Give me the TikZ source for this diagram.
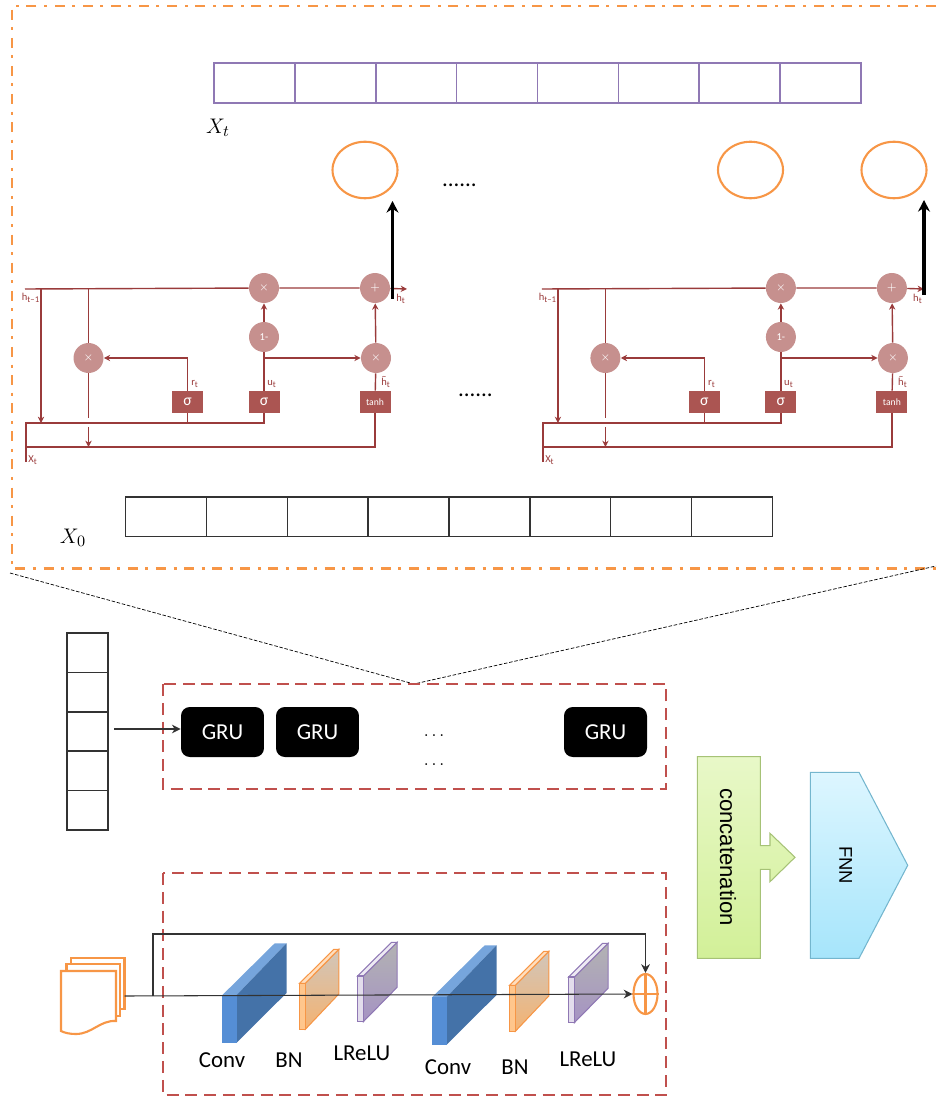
\documentclass[tikz,border=0pt]{standalone}
\usepackage{fontspec}
\setmainfont{Carlito}
\newfontfamily\arialfont{Liberation Sans}
\usepackage{tikz}
\usetikzlibrary{arrows.meta,shapes}
\definecolor{framecol}{HTML}{F79646}
\definecolor{redbox}{HTML}{C0504D}
\definecolor{rowpurple}{HTML}{8F78B4}
\definecolor{gruline}{HTML}{9A3B3B}
\definecolor{grucirc}{HTML}{C6908E}
\definecolor{grubox}{HTML}{AB5552}
\definecolor{guidegray}{HTML}{333333}
\definecolor{convtop}{HTML}{76A5DC}
\definecolor{convside}{HTML}{4472A8}
\definecolor{convfront}{HTML}{558ED5}
\definecolor{concattop}{HTML}{E8F8C8}
\definecolor{concatbot}{HTML}{D2F098}
\definecolor{concatedge}{HTML}{A6C276}
\definecolor{fnntop}{HTML}{DDF6FF}
\definecolor{fnnbot}{HTML}{A6E5FB}
\definecolor{fnnedge}{HTML}{74B6CE}
\tikzset{
framed/.style={framecol,line width=1.5pt,dash pattern=on 5.7pt off 4.3pt on 1.7pt off 4.3pt},
redframe/.style={redbox,line width=1.5pt,dash pattern=on 6.8pt off 3.9pt},
guide/.style={black,line width=.4pt,dash pattern=on 2pt off 1pt},
outcirc/.style={ellipse,draw=framecol,line width=1.2pt,minimum width=1.3cm,minimum height=1.13cm,inner sep=0pt},
grunode/.style={circle,fill=grucirc,text=white,minimum size=.6cm,inner sep=0pt,font=\fontsize{6}{7}\selectfont},
gatebox/.style={rectangle,fill=grubox,text=white,minimum width=.62cm,minimum height=.44cm,inner sep=0pt,font=\fontsize{9}{10}\selectfont},
gatelabel/.style={text=gruline,inner sep=0pt,font=\fontsize{6}{7}\selectfont},
gruwire/.style={gruline,line width=.8pt},
grutip/.style={-{Stealth[length=3.6pt,width=3.6pt]}},
grublock/.style={rectangle,rounded corners=5pt,fill=black,text=white,minimum width=1.66cm,minimum height=1cm,inner sep=0pt,font=\fontsize{13}{15}\selectfont},
flow/.style={guidegray,line width=.6pt},
flowtip/.style={-{Stealth[length=5pt,width=5pt]}},
layertext/.style={inner sep=0pt,font=\fontsize{13}{15}\selectfont},
}
\begin{document}
\begin{tikzpicture}[x=0.02cm,y=-0.02cm,=>stealth]
\useasboundingbox (0,0) rectangle (936,1097);
% zoomed part
\draw[framed] (936,6)--(12,6)--(12,568.5)--(936,568.5);
\foreach \i in {0,...,7}{
\draw[rowpurple,line width=.9pt] (214+80.875*\i,63) rectangle ++(80.875,40);
\draw[black!80,line width=.8pt] (125.5+80.875*\i,497) rectangle ++(80.875,39.5);
}
\draw[rowpurple,line width=1.6pt] (214,103)--(861,103);
\node[inner sep=0pt,font=\fontsize{13}{15}\selectfont] (xtop) at (218,128) {$X_t$};
\node[inner sep=0pt,font=\fontsize{13}{15}\selectfont] (xbot) at (73,538) {$X_0$};
\node[outcirc] (outa) at (365,170) {};
\node[outcirc] (outb) at (750.5,170) {};
\node[outcirc] (outc) at (894,170) {};
\node[layertext] (dotstop) at (459.5,185.3) {......};
\node[layertext] (dotsmid) at (475.5,395) {......};
% the two cells
\foreach \u/\dx in {a/0cm,b/10.34cm}{
\begin{scope}[xshift=\dx,name prefix=\u-]
\coordinate (hin) at (25,289);
\coordinate (hout) at (407,289);
\coordinate (hdown) at (41,289);
\coordinate (hmid) at (88.5,289);
\coordinate (xin) at (26,462);
\coordinate (busa) at (26,423);
\coordinate (busb) at (26,447);
\coordinate (busdrop) at (41,423);
\coordinate (gapa) at (88.5,418);
\coordinate (gapb) at (88.5,427);
\coordinate (gapc) at (88.5,447);
\coordinate (ubranch) at (264,358);
\node[grunode] (mulr) at (88.5,358) {$\times$};
\node[grunode] (mulu) at (264,288) {$\times$};
\node[grunode] (add) at (375,288) {$+$};
\node[grunode] (oneminus) at (264,337) {1-};
\node[grunode] (mulh) at (376,358) {$\times$};
\node[gatebox] (rbox) at (187.5,402) {σ};
\node[gatebox] (ubox) at (264,402) {σ};
\node[gatebox,font=\fontsize{5.5}{6}\selectfont] (hbox) at (375,402) {tanh};
\draw[gruwire,grutip] (hin)--(mulu)--(add)--(hout);
\draw[gruwire,grutip] (hdown)--(busdrop);
\draw[gruwire] (hmid)--(mulr)--(gapa);
\draw[gruwire,grutip] (gapb)--(gapc);
\draw[gruwire] (xin)--(busa)-|(ubox);
\draw[gruwire] (rbox)--(rbox|-busa);
\draw[gruwire] (busb)-|(hbox);
\draw[gruwire,grutip] (rbox)|-(mulr);
\draw[gruwire] (ubox)--(oneminus);
\draw[gruwire,grutip] (oneminus)--(mulu);
\draw[gruwire,grutip] (ubranch)--(mulh);
\draw[gruwire] (hbox)--(mulh);
\draw[gruwire,grutip] (mulh)--(add);
\node[gatelabel] (lhin) at (31,298) {h\textsubscript{t--1}};
\node[gatelabel] (lhout) at (401,299) {h\textsubscript{t}};
\node[gatelabel] (lr) at (195,384) {r\textsubscript{t}};
\node[gatelabel] (lu) at (272,384) {u\textsubscript{t}};
\node[gatelabel] (lh) at (386,382) {$\tilde{\mathrm{h}}$\textsubscript{t}};
\node[gatelabel] (lx) at (33,460) {X\textsubscript{t}};
\end{scope}
}
\coordinate (upa) at (392.5,299);
\coordinate (upatop) at (392.5,201);
\coordinate (upb) at (924,295);
\coordinate (upbtop) at (924,200);
\draw[black,line width=2pt,-{Stealth[length=6.6pt,width=6.8pt]}] (upa)--(upatop);
\draw[black,line width=2pt,-{Stealth[length=6.6pt,width=6.8pt]}] (upb)--(upbtop);
% guide lines
\coordinate (guidel) at (10,573);
\coordinate (guidem) at (414,684);
\coordinate (guider) at (936,566);
\draw[guide] (guidel)--(guidem)--(guider);
% input column and GRU row
\foreach \i in {0,...,4}{
\draw[black!80,line width=.9pt] (67,633+39.4*\i) rectangle ++(41,39.4);
}
\draw[redframe] (163,684) rectangle (666,789);
\node[grublock] (grua) at (222.5,732) {GRU};
\node[grublock] (grub) at (317.5,732) {GRU};
\node[grublock] (gruc) at (605.5,732) {GRU};
\node[inner sep=0pt,font=\fontsize{10}{12}\selectfont] (dotsa) at (434,735.5) {$\ldots$};
\node[inner sep=0pt,font=\fontsize{10}{12}\selectfont] (dotsb) at (434,765) {$\ldots$};
\coordinate (colout) at (114,729);
\draw[flow,flowtip] (colout)--(colout-|grua.west);
% conv branch
\draw[redframe] (163,873) rectangle (666,1095);
\draw[framecol,line width=1.2pt,fill=white] (70.6,958) rectangle (124.5,1009);
\draw[framecol,line width=1.2pt,fill=white] (66.5,964) rectangle (120.4,1015.6);
\draw[framecol,line width=1.2pt,fill=white] (61,971)--(116,971)--(116,1021)
.. controls (100,1020) and (92,1034) .. (76,1034)
.. controls (70,1034) and (65,1033) .. (61,1031)--cycle;
\foreach \dx/\dy in {0/0,210/2}{
\begin{scope}[shift={(\dx,\dy)}]
\fill[convtop] (222.4,995)--(274.7,943.3)--(286.5,943.3)--(236.7,995)--cycle;
\fill[convside] (236.7,995)--(286.5,943.3)--(286.5,993)--(236.7,1042.7)--cycle;
\fill[convfront] (222.4,995) rectangle (236.7,1042.7);
\shade[top color=orange!20!gray!45,bottom color=orange!70!brown!60,draw=framecol,line width=.6pt] (305.3,983.3)--(338.8,949.3)--(338.8,994)--(305.3,1029.3)--cycle;
\draw[framecol,line width=.6pt,fill=orange!25] (299.6,983.3)--(305.3,983.3)--(338.8,949.3)--(333.9,949.3)--cycle;
\draw[framecol,line width=.6pt,fill=orange!45] (299.6,983.3) rectangle (305.3,1029.3);
\end{scope}
}
\foreach \dx/\dy in {0/0,211/1}{
\begin{scope}[shift={(\dx,\dy)}]
\shade[top color=black!30,bottom color=rowpurple!80,draw=rowpurple,line width=.6pt] (363.3,976)--(397.1,942.3)--(397.1,987.3)--(363.3,1021.7)--cycle;
\draw[rowpurple,line width=.6pt,fill=rowpurple!15] (357.6,976)--(363.3,976)--(397.1,942.3)--(391.5,942.3)--cycle;
\draw[rowpurple,line width=.6pt,fill=rowpurple!25] (357.6,976) rectangle (363.3,1021.7);
\end{scope}
}
\node[layertext] (conva) at (222,1060) {Conv};
\node[layertext] (bna) at (289,1060) {BN};
\node[layertext] (relua) at (362,1053) {LReLU};
\node[layertext] (convb) at (448,1067) {Conv};
\node[layertext] (bnb) at (515,1067) {BN};
\node[layertext] (relub) at (588,1059) {LReLU};
\node[ellipse,draw=framecol,line width=1.2pt,minimum width=.48cm,minimum height=.8cm,inner sep=0pt] (sumnode) at (645.5,994) {};
\draw[framecol,line width=1.2pt] (sumnode.north)--(sumnode.south) (sumnode.west)--(sumnode.east);
\coordinate (docout) at (124.5,996);
\coordinate (skipa) at (153,996);
\coordinate (skipb) at (153,934);
\draw[flow,flowtip] (docout)--(sumnode.west);
\draw[flow,flowtip] (skipa)--(skipb)-|(sumnode.north);
% last two shapes
\shade[top color=concattop,bottom color=concatbot,draw=concatedge,line width=.6pt]
(697.3,756.7)--(760.3,756.7)--(760.3,845.7)--(770,845.7)--(770,833.3)--(795,857.3)--(770,881.7)--(770,869.3)--(760.3,869.3)--(760.3,958.3)--(697.3,958.3)--cycle;
\node[rotate=-90,inner sep=0pt,font=\arialfont\fontsize{12.6}{14}\selectfont] (concat) at (728,857) {concatenation};
\shade[top color=fnntop,bottom color=fnnbot,draw=fnnedge,line width=.6pt]
(810.3,772.3)--(859,772.3)--(907.7,865.3)--(859,958.3)--(810.3,958.3)--cycle;
\node[rotate=-90,inner sep=0pt,font=\arialfont\fontsize{10.5}{12}\selectfont] (fnn) at (845.7,865) {FNN};
\end{tikzpicture}
\end{document}
